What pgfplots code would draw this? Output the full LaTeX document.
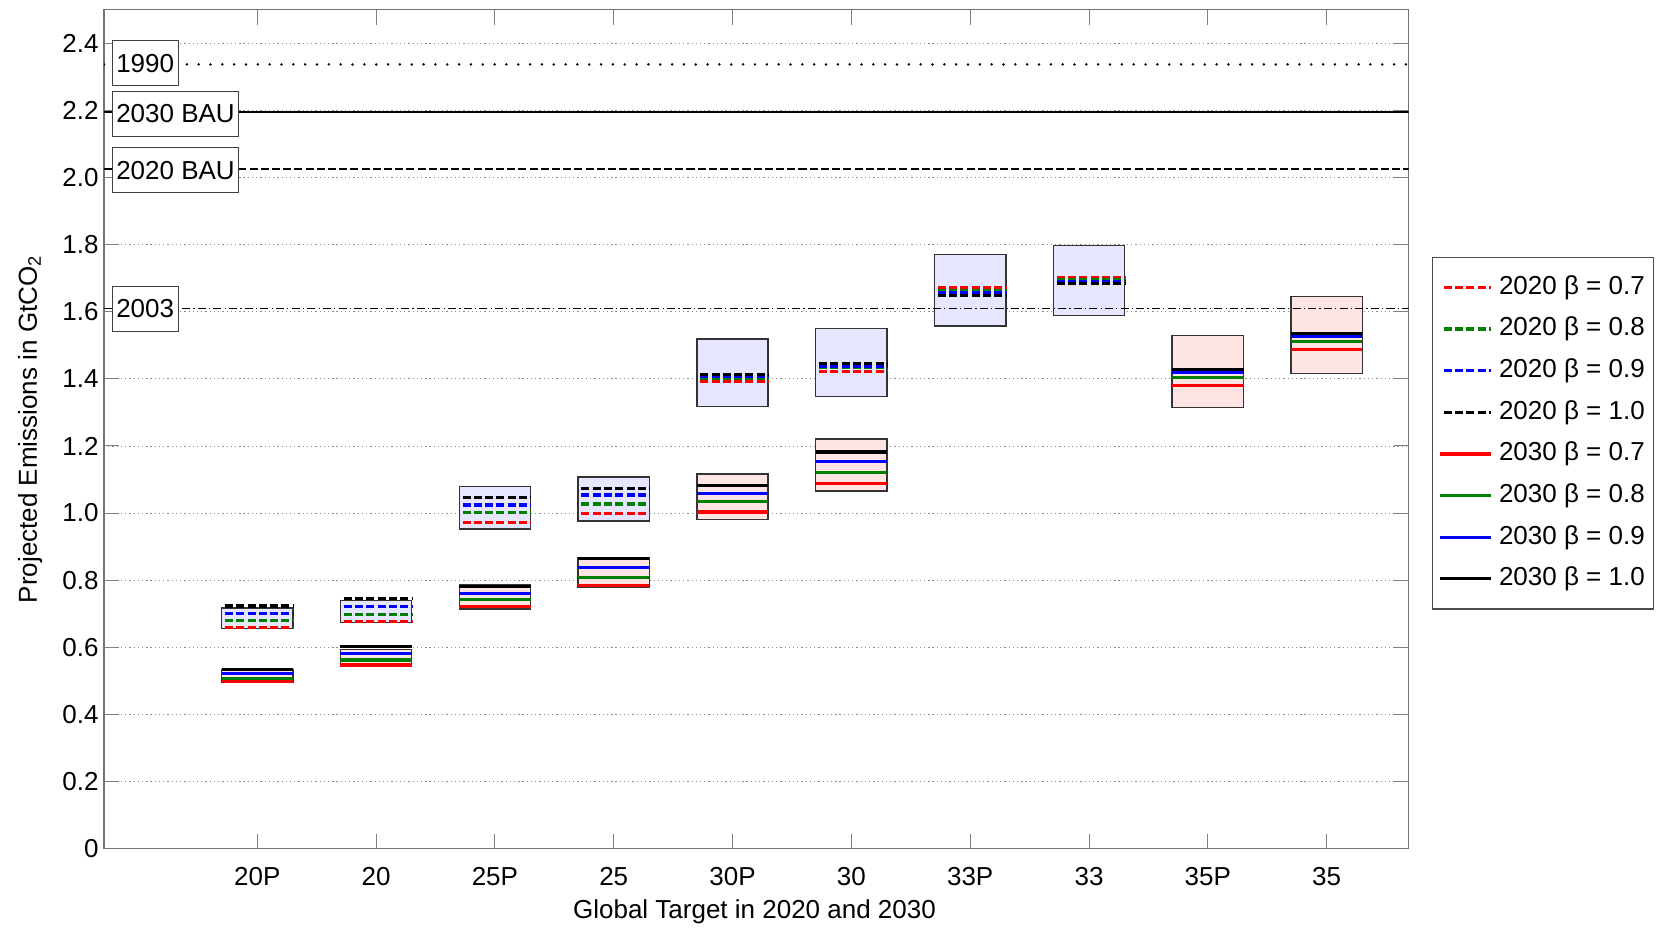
\documentclass[border=0pt]{standalone}
\usepackage{fontspec}
\setmainfont{Liberation Sans}
\usepackage{pgfplots}
\pgfplotsset{compat=1.18}
\definecolor{boxblue}{RGB}{230,230,255}
\definecolor{boxpink}{RGB}{255,228,228}
\definecolor{mgreen}{RGB}{0,128,0}
\pgfplotsset{
  d20/.style={line width=1.5pt, dash pattern=on 3.8pt off 1.55pt, dash phase=3.8pt},
  s30/.style={line width=1.5pt, solid},
  bxb/.style={forget plot, fill=boxblue, draw=black!80, line width=0.7pt},
  bxp/.style={forget plot, fill=boxpink, draw=black!80, line width=0.7pt},
}
\begin{document}
\begin{tikzpicture}[font=\fontsize{12.3}{14.5}\selectfont,
  lbl/.style={draw=black!75, fill=white, line width=0.5pt, inner xsep=1.9pt, inner ysep=0pt, minimum height=21.3pt, anchor=west}]
\useasboundingbox (-49.2pt,-38pt) rectangle (734.8pt,401.5pt);
\begin{axis}[
  scale only axis, width=617.3pt, height=396.9pt,
  xmin=-0.29, xmax=10.69, ymin=0, ymax=2.5,
  xtick={1,2,3,4,5,6,7,8,9,10},
  xticklabels={20P,20,25P,25,30P,30,33P,33,35P,35},
  ytick={0,0.2,0.4,0.6,0.8,1,1.2,1.4,1.6,1.8,2,2.2,2.4},
  yticklabels={0,0.2,0.4,0.6,0.8,1.0,1.2,1.4,1.6,1.8,2.0,2.2,2.4},
  tick align=inside,
  major tick length=7pt,
  tick style={black!50, line width=0.5pt},
  axis line style={black!55, line width=0.6pt},
  ymajorgrids,
  major grid style={black!45, line width=0.4pt, dash pattern=on 0.6pt off 1.4pt},
  xticklabel style={yshift=-5.5pt},
  yticklabel style={xshift=1pt},
  unbounded coords=jump,
  xlabel={Global Target in 2020 and 2030},
  ylabel={Projected Emissions in GtCO\textsubscript{2}},
  xlabel style={at={(axis description cs:0.4986,0)}, anchor=center, yshift=-30pt},
  ylabel style={at={(axis description cs:-0.0565,0.5)}, anchor=center},
  legend cell align=left,
  legend image code/.code={\draw[#1] (0pt,0pt) -- (24pt,0pt);},
  legend style={draw=black!70, line width=0.5pt, fill=white,
    at={(1.0178,0.7055)}, anchor=north west,
    inner xsep=3pt, inner ysep=7.5pt, row sep=6.2pt, column sep=2pt,
    nodes={inner sep=1pt, text height=9pt, text depth=2.5pt, anchor=west},
    font=\fontsize{12.3}{14.5}\selectfont},
]
% 2020 boxes
\addplot[bxb] coordinates {(0.7,0.656) (1.3,0.656) (1.3,0.717) (0.7,0.717)} -- cycle;
\addplot[bxb] coordinates {(1.7,0.674) (2.3,0.674) (2.3,0.739) (1.7,0.739)} -- cycle;
\addplot[bxb] coordinates {(2.7,0.952) (3.3,0.952) (3.3,1.079) (2.7,1.079)} -- cycle;
\addplot[bxb] coordinates {(3.7,0.976) (4.3,0.976) (4.3,1.108) (3.7,1.108)} -- cycle;
\addplot[bxb] coordinates {(4.7,1.318) (5.3,1.318) (5.3,1.518) (4.7,1.518)} -- cycle;
\addplot[bxb] coordinates {(5.7,1.347) (6.3,1.347) (6.3,1.550) (5.7,1.550)} -- cycle;
\addplot[bxb] coordinates {(6.7,1.558) (7.3,1.558) (7.3,1.771) (6.7,1.771)} -- cycle;
\addplot[bxb] coordinates {(7.7,1.589) (8.3,1.589) (8.3,1.798) (7.7,1.798)} -- cycle;
% 2030 boxes
\addplot[bxp] coordinates {(0.7,0.496) (1.3,0.496) (1.3,0.532) (0.7,0.532)} -- cycle;
\addplot[bxp] coordinates {(1.7,0.544) (2.3,0.544) (2.3,0.594) (1.7,0.594)} -- cycle;
\addplot[bxp] coordinates {(2.7,0.714) (3.3,0.714) (3.3,0.785) (2.7,0.785)} -- cycle;
\addplot[bxp] coordinates {(3.7,0.779) (4.3,0.779) (4.3,0.867) (3.7,0.867)} -- cycle;
\addplot[bxp] coordinates {(4.7,0.980) (5.3,0.980) (5.3,1.117) (4.7,1.117)} -- cycle;
\addplot[bxp] coordinates {(5.7,1.065) (6.3,1.065) (6.3,1.220) (5.7,1.220)} -- cycle;
\addplot[bxp] coordinates {(8.7,1.314) (9.3,1.314) (9.3,1.529) (8.7,1.529)} -- cycle;
\addplot[bxp] coordinates {(9.7,1.416) (10.3,1.416) (10.3,1.645) (9.7,1.645)} -- cycle;
% reference lines
\addplot[forget plot, black, line width=1.3pt, line cap=round, dash pattern=on 0pt off 5.6pt] coordinates {(-0.29,2.337) (10.69,2.337)};
\addplot[forget plot, black, line width=0.7pt] coordinates {(-0.29,2.195) (10.69,2.195)};
\addplot[forget plot, black, line width=0.7pt, dash pattern=on 3.8pt off 1.5pt] coordinates {(-0.29,2.025) (10.69,2.025)};
\addplot[forget plot, black, line width=0.7pt, dash pattern=on 3.8pt off 1.5pt on 0.6pt off 1.5pt] coordinates {(-0.29,1.609) (10.69,1.609)};
% 2020 series
\addplot[red, d20] coordinates {(0.7,0.658) (1.3,0.658) (1.5,nan) (1.7,0.676) (2.3,0.676) (2.5,nan) (2.7,0.972) (3.3,0.972) (3.5,nan) (3.7,0.998) (4.3,0.998) (4.5,nan) (4.7,1.391) (5.3,1.391) (5.5,nan) (5.7,1.423) (6.3,1.423) (6.5,nan) (6.7,1.672) (7.3,1.672) (7.5,nan) (7.7,1.703) (8.3,1.703)};
\addlegendentry{2020 β = 0.7}
\addplot[mgreen, d20] coordinates {(0.7,0.679) (1.3,0.679) (1.5,nan) (1.7,0.698) (2.3,0.698) (2.5,nan) (2.7,1.001) (3.3,1.001) (3.5,nan) (3.7,1.027) (4.3,1.027) (4.5,nan) (4.7,1.400) (5.3,1.400) (5.5,nan) (5.7,1.433) (6.3,1.433) (6.5,nan) (6.7,1.664) (7.3,1.664) (7.5,nan) (7.7,1.695) (8.3,1.695)};
\addlegendentry{2020 β = 0.8}
\addplot[blue, d20] coordinates {(0.7,0.700) (1.3,0.700) (1.5,nan) (1.7,0.722) (2.3,0.722) (2.5,nan) (2.7,1.024) (3.3,1.024) (3.5,nan) (3.7,1.054) (4.3,1.054) (4.5,nan) (4.7,1.407) (5.3,1.407) (5.5,nan) (5.7,1.438) (6.3,1.438) (6.5,nan) (6.7,1.657) (7.3,1.657) (7.5,nan) (7.7,1.689) (8.3,1.689)};
\addlegendentry{2020 β = 0.9}
\addplot[black, d20] coordinates {(0.7,0.723) (1.3,0.723) (1.5,nan) (1.7,0.746) (2.3,0.746) (2.5,nan) (2.7,1.046) (3.3,1.046) (3.5,nan) (3.7,1.074) (4.3,1.074) (4.5,nan) (4.7,1.414) (5.3,1.414) (5.5,nan) (5.7,1.446) (6.3,1.446) (6.5,nan) (6.7,1.649) (7.3,1.649) (7.5,nan) (7.7,1.683) (8.3,1.683)};
\addlegendentry{2020 β = 1.0}
% 2030 series
\addplot[red, s30] coordinates {(0.7,0.498) (1.3,0.498) (1.5,nan) (1.7,0.547) (2.3,0.547) (2.5,nan) (2.7,0.722) (3.3,0.722) (3.5,nan) (3.7,0.783) (4.3,0.783) (4.5,nan) (4.7,1.003) (5.3,1.003) (5.5,nan) (5.7,1.089) (6.3,1.089) (6.5,nan) (8.7,1.381) (9.3,1.381) (9.5,nan) (9.7,1.488) (10.3,1.488)};
\addlegendentry{2030 β = 0.7}
\addplot[mgreen, s30] coordinates {(0.7,0.508) (1.3,0.508) (1.5,nan) (1.7,0.562) (2.3,0.562) (2.5,nan) (2.7,0.743) (3.3,0.743) (3.5,nan) (3.7,0.808) (4.3,0.808) (4.5,nan) (4.7,1.035) (5.3,1.035) (5.5,nan) (5.7,1.121) (6.3,1.121) (6.5,nan) (8.7,1.403) (9.3,1.403) (9.5,nan) (9.7,1.510) (10.3,1.510)};
\addlegendentry{2030 β = 0.8}
\addplot[blue, s30] coordinates {(0.7,0.521) (1.3,0.521) (1.5,nan) (1.7,0.582) (2.3,0.582) (2.5,nan) (2.7,0.759) (3.3,0.759) (3.5,nan) (3.7,0.838) (4.3,0.838) (4.5,nan) (4.7,1.059) (5.3,1.059) (5.5,nan) (5.7,1.153) (6.3,1.153) (6.5,nan) (8.7,1.419) (9.3,1.419) (9.5,nan) (9.7,1.525) (10.3,1.525)};
\addlegendentry{2030 β = 0.9}
\addplot[black, s30] coordinates {(0.7,0.534) (1.3,0.534) (1.5,nan) (1.7,0.603) (2.3,0.603) (2.5,nan) (2.7,0.781) (3.3,0.781) (3.5,nan) (3.7,0.864) (4.3,0.864) (4.5,nan) (4.7,1.083) (5.3,1.083) (5.5,nan) (5.7,1.182) (6.3,1.182) (6.5,nan) (8.7,1.428) (9.3,1.428) (9.5,nan) (9.7,1.536) (10.3,1.536)};
\addlegendentry{2030 β = 1.0}
% labels
\node[lbl] at (axis cs:-0.225,2.340) {1990};
\node[lbl] at (axis cs:-0.225,2.190) {2030 BAU};
\node[lbl] at (axis cs:-0.225,2.022) {2020 BAU};
\node[lbl] at (axis cs:-0.225,1.609) {2003};
\end{axis}
\end{tikzpicture}
\end{document}
